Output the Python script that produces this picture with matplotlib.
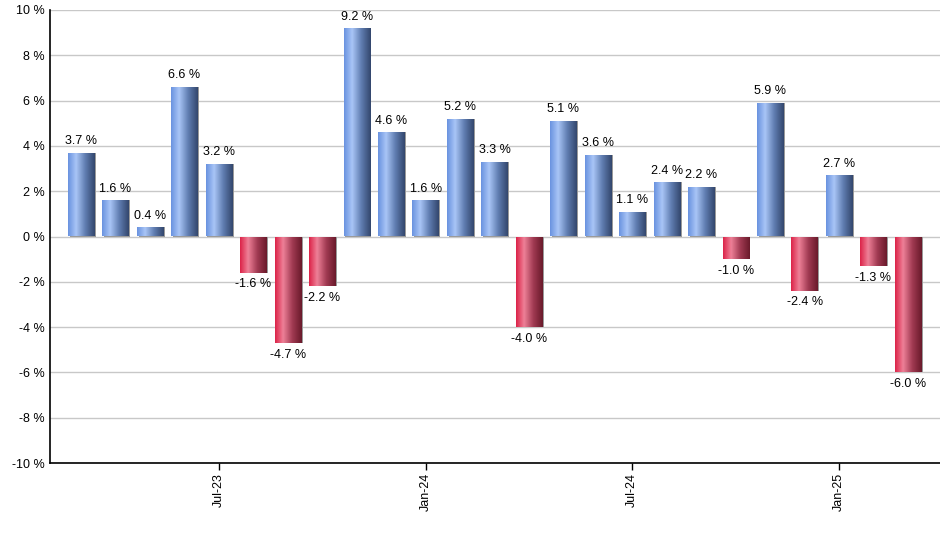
import numpy as np
import matplotlib
matplotlib.use('Agg')
import matplotlib.pyplot as plt
from matplotlib.colors import LinearSegmentedColormap
from matplotlib.patches import Rectangle

# ---------- data ---------- #
months = ['Mar-23', 'Apr-23', 'May-23', 'Jun-23', 'Jul-23', 'Aug-23', 'Sep-23',
          'Oct-23', 'Nov-23', 'Dec-23', 'Jan-24', 'Feb-24', 'Mar-24', 'Apr-24',
          'May-24', 'Jun-24', 'Jul-24', 'Aug-24', 'Sep-24', 'Oct-24', 'Nov-24',
          'Dec-24', 'Jan-25', 'Feb-25', 'Mar-25']
returns = [3.7, 1.6, 0.4, 6.6, 3.2, -1.6, -4.7, -2.2, 9.2, 4.6, 1.6, 5.2, 3.3,
           -4.0, 5.1, 3.6, 1.1, 2.4, 2.2, -1.0, 5.9, -2.4, 2.7, -1.3, -6.0]
tick_months = ['Jul-23', 'Jan-24', 'Jul-24', 'Jan-25']
yticks = list(range(-10, 11, 2))

# ---------- style ---------- #
matplotlib.rc('font', family=['Liberation Sans', 'DejaVu Sans'], size=9)

blue_cmap = LinearSegmentedColormap.from_list(
    'blue', [(0.0, '#6a93e0'), (0.3, '#a9c5f6'), (0.65, '#5f7cb0'), (1.0, '#33476d')])
red_cmap = LinearSegmentedColormap.from_list(
    'red', [(0.0, '#dc2449'), (0.3, '#ee8097'), (0.65, '#a03a52'), (1.0, '#6a1a2b')])
grad = np.linspace(0, 1, 64).reshape(1, -1)

fig = plt.figure(figsize=(9.4, 5.5), dpi=100)
ax = fig.add_axes([50 / 940, 87 / 550, 890 / 940, 453 / 550])

x = np.arange(len(months))
width = 0.76
ax.set_xlim(-0.9, 24.93)
ax.set_ylim(-10, 10)

# shadows, then gradient fills clipped to each bar
shadow = ax.bar(x + 0.05, returns, width, color='#9a9a9a', zorder=2)
for i, v in enumerate(returns):
    rect = Rectangle((x[i] - width / 2, 0), width, v, facecolor='none',
                     edgecolor='none', zorder=3)
    ax.add_patch(rect)
    cmap = blue_cmap if v >= 0 else red_cmap
    im = ax.imshow(grad, cmap=cmap, aspect='auto', zorder=3,
                   extent=(x[i] - width / 2, x[i] + width / 2, min(0, v), max(0, v)))
    im.set_clip_path(rect)
    if v >= 0:
        ax.annotate('%.1f %%' % v, (x[i], v), xytext=(0, 4), textcoords='offset points',
                    ha='center', va='bottom')
    else:
        ax.annotate('%.1f %%' % v, (x[i], v), xytext=(0, -4), textcoords='offset points',
                    ha='center', va='top')

ax.set_xlim(-0.9, 24.93)
ax.set_ylim(-10, 10)
ax.set_yticks(yticks)
ax.set_yticklabels(['%d %%' % t for t in yticks])
ax.set_xticks([months.index(m) for m in tick_months])
ax.set_xticklabels(tick_months, rotation=90)
ax.tick_params(axis='y', length=0, pad=4)
ax.tick_params(axis='x', length=5, width=1, pad=2)
ax.yaxis.grid(True, color='#c8c8c8', linewidth=1)
ax.set_axisbelow(True)
for s in ['top', 'right']:
    ax.spines[s].set_visible(False)
for s in ['left', 'bottom']:
    ax.spines[s].set_color('black')
    ax.spines[s].set_linewidth(1.2)

fig.savefig('out.png', dpi=100)
